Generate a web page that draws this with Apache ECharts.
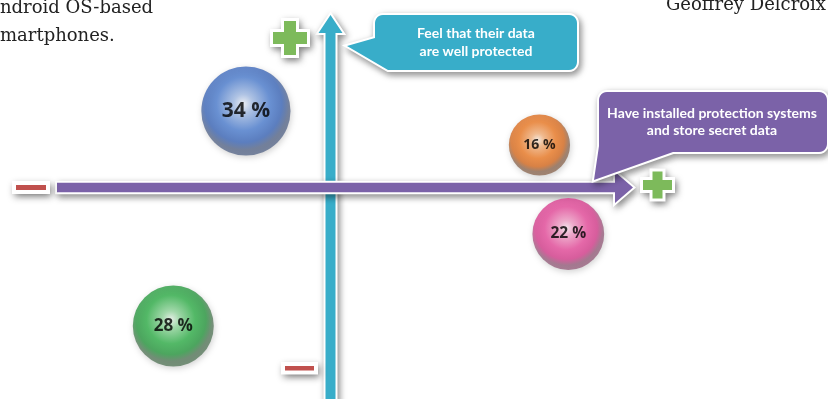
<!DOCTYPE html>
<html>
<head>
<meta charset="utf-8">
<script src="https://cdn.jsdelivr.net/npm/echarts@6/dist/echarts.min.js"></script>
<style>
html,body{margin:0;padding:0;background:#fff;}
#chart{width:828px;height:399px;}
</style>
</head>
<body>
<div id="chart"></div>
<script>
// ---- data ----
const bubbleLabels = ['34 %', '16 %', '22 %', '28 %'];
const bubbleValues = [34, 16, 22, 28];
// x: protection systems / secret data (− … +), y: feel data well protected (− … +)
const protectionScore = [-8.5, 21.0, 23.9, -15.8];
const feelingScore = [7.65, 4.25, -4.65, -13.85];
const calloutTexts = ['Feel that their data\nare well protected', 'Have installed protection systems\nand store secret data'];
const headerLines = ['ndroid OS-based', 'martphones.'];
const bylineText = 'Geoffrey Delcroix';

// ---- styles ----
const ballStops = [
  ['#f2f5fb', '#a6bfe8', '#4f80d2', '#3e69ba', '#5b6b8c'],
  ['#fdeee0', '#f7b47f', '#ef7d28', '#d96d22', '#8f6c56'],
  ['#fde9f3', '#f4a0c9', '#e94e9e', '#d8408f', '#98627f'],
  ['#ecf7ed', '#94d99f', '#33b24c', '#2b9a42', '#5a7b5f']
];
const labelSizes = [21, 14, 15.5, 17];

const chart = echarts.init(document.getElementById('chart'));

function ballColor(i) {
  const s = ballStops[i];
  return {
    type: 'radial', x: 0.47, y: 0.42, r: 0.6,
    colorStops: [
      { offset: 0, color: s[0] },
      { offset: 0.18, color: s[1] },
      { offset: 0.5, color: s[2] },
      { offset: 0.72, color: s[3] },
      { offset: 0.86, color: s[4] },
      { offset: 1, color: s[4] }
    ]
  };
}

const seriesData = bubbleValues.map((v, i) => ({
  value: [protectionScore[i], feelingScore[i], v],
  name: bubbleLabels[i],
  itemStyle: { color: ballColor(i) },
  label: { fontSize: labelSizes[i] }
}));

chart.setOption({
  animation: false,
  grid: { left: 32, top: 7.5, width: 800, height: 360, containLabel: false },
  xAxis: { type: 'value', min: -30, max: 50, show: false },
  yAxis: { type: 'value', min: -18, max: 18, show: false },
  series: [{
    type: 'scatter',
    z: 10,
    clip: false,
    data: seriesData,
    symbolSize: d => 15.3 * Math.sqrt(d[2]),
    itemStyle: {
      shadowBlur: 6, shadowColor: 'rgba(0,0,0,0.22)', shadowOffsetX: 1, shadowOffsetY: 2
    },
    label: {
      show: true, position: 'inside',
      formatter: p => p.name,
      color: '#000', fontWeight: 'bold', fontFamily: 'Open Sans'
    },
    emphasis: { disabled: true }
  }]
});

// decorations anchored on the axes origin
const o = chart.convertToPixel({ gridIndex: 0 }, [0, 0]);
const ox = o[0], oy = o[1];

const shadow = { shadowBlur: 7, shadowColor: 'rgba(0,0,0,0.4)', shadowOffsetX: 2, shadowOffsetY: 3 };

function arc(cx, cy, r, a0, a1) {
  const pts = [];
  const n = 6;
  for (let k = 0; k <= n; k++) {
    const a = (a0 + (a1 - a0) * k / n) * Math.PI / 180;
    pts.push([cx + r * Math.cos(a), cy + r * Math.sin(a)]);
  }
  return pts;
}
function boxTop(x, y, w, h, r) {
  return [].concat(
    arc(x + r, y + r, r, 180, 270),
    arc(x + w - r, y + r, r, 270, 360),
    arc(x + w - r, y + h - r, r, 0, 90)
  );
}
function plus(cx, cy, w, h, t) {
  const a = w / 2, b = h / 2, c = t / 2;
  return [[cx - c, cy - b], [cx + c, cy - b], [cx + c, cy - c], [cx + a, cy - c], [cx + a, cy + c], [cx + c, cy + c],
    [cx + c, cy + b], [cx - c, cy + b], [cx - c, cy + c], [cx - a, cy + c], [cx - a, cy - c], [cx - c, cy - c]];
}

const cyan = '#38adc9', purple = '#7b62a8', green = '#7dba5b', red = '#c0504d';

// outlined shape: white border (with shadow) under a clean coloured fill
function outlined(type, shape, fill, border, z) {
  return [
    { type: type, z: z, shape: shape, style: Object.assign({ fill: '#fff', stroke: '#fff', lineWidth: border * 2, lineJoin: 'miter' }, shadow) },
    { type: type, z: z + 0.5, shape: shape, style: { fill: fill } }
  ];
}

const vArrow = [[ox - 5, 420], [ox - 5, 33], [ox - 12, 33], [ox, 15], [ox + 12, 33], [ox + 5, 33], [ox + 5, 420]];
const hArrow = [[57, oy - 4.75], [615, oy - 4.75], [615, oy - 15.5], [633, oy], [615, oy + 15.5], [615, oy + 4.75], [57, oy + 4.75]];
const cyanBox = boxTop(375, 15, 202, 55, 8).concat([[388, 70], [347, 46], [375, 38]]);
const purpleBox = boxTop(599, 92, 228, 60, 8).concat([[673, 152], [594, 180], [599, 146]]);

const g = [].concat(
  outlined('polygon', { points: vArrow }, cyan, 2, 1),
  outlined('polygon', { points: hArrow }, purple, 2, 2),
  outlined('polygon', { points: cyanBox }, cyan, 2, 3),
  outlined('polygon', { points: purpleBox }, purple, 2, 3),
  outlined('polygon', { points: plus(290, 38, 34, 34, 12) }, green, 3, 3),
  outlined('polygon', { points: plus(657.5, 185, 29, 27, 10) }, green, 3, 3),
  outlined('rect', { x: 16, y: 185, width: 30, height: 5 }, red, 4, 3),
  outlined('rect', { x: 285, y: 366, width: 29, height: 4.5 }, red, 4, 3),
  [
    { type: 'text', z: 4, style: { text: calloutTexts[0], x: 476, y: 42.5, align: 'center', verticalAlign: 'middle', fill: '#fff', font: 'bold 14px Lato', lineHeight: 18 } },
    { type: 'text', z: 4, style: { text: calloutTexts[1], x: 712, y: 122, align: 'center', verticalAlign: 'middle', fill: '#fff', font: 'bold 14px Lato', lineHeight: 17 } },
    { type: 'text', z: 5, style: { text: headerLines[0], x: 0, y: 8, verticalAlign: 'middle', fill: '#222', font: '18px "DejaVu Serif"' } },
    { type: 'text', z: 5, style: { text: headerLines[1], x: 0, y: 36, verticalAlign: 'middle', fill: '#222', font: '18px "DejaVu Serif"' } },
    { type: 'text', z: 5, style: { text: bylineText, x: 826, y: 5, align: 'right', verticalAlign: 'middle', fill: '#222', font: '18px "DejaVu Serif"' } }
  ]
);

chart.setOption({ graphic: g });
</script>
</body>
</html>
